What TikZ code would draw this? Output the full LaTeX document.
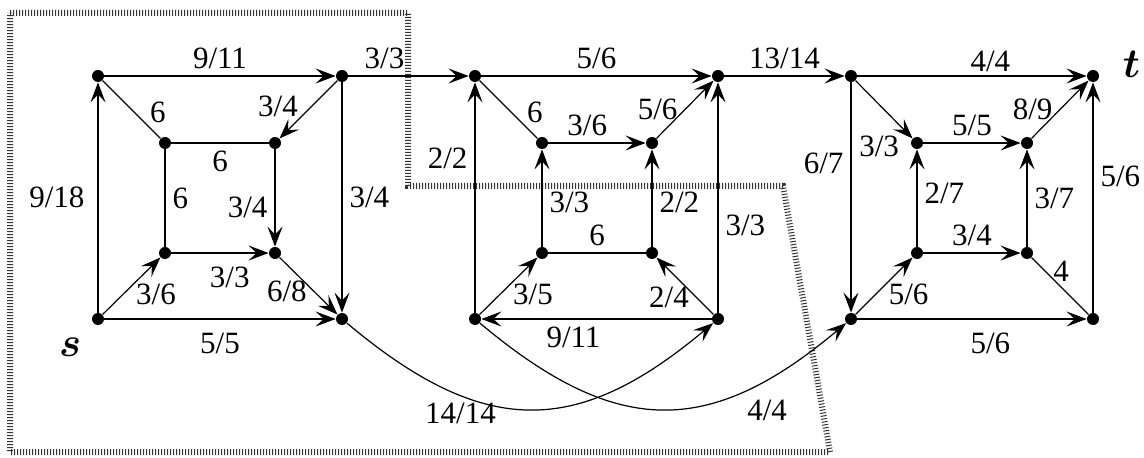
\documentclass[tikz,border=0pt]{standalone}
\usepackage{fontspec}
\setmainfont{Liberation Serif}
\usepackage{amsmath,amssymb}
\usetikzlibrary{arrows.meta, positioning}

\begin{document}
\begin{tikzpicture}[x=0.5pt, y=-0.5pt,
    vtx/.style={circle, fill=black, inner sep=0pt, minimum size=6pt},
    flow/.style={-{Stealth[length=10pt, width=7.5pt, inset=4pt]}, line width=0.6pt},
    ln/.style={line width=0.6pt},
    lab/.style={font=\fontsize{15.5}{18}\selectfont, inner sep=3.5pt},
    term/.style={font=\fontsize{20}{24}\selectfont, inner sep=0pt},
    cut/.style={line width=3pt, dash pattern=on 0.5pt off 1pt, black!80},
]
\useasboundingbox (0,0) rectangle (1144,458);

% The cut
\draw[cut] (10,13) -- (408,13) -- (408,186) -- (783,186) -- (830,452) -- (10,452) -- cycle;

% Left block
\node[vtx] (TL1) at (98,76) {};
\node[vtx] (TR1) at (342,76) {};
\node[vtx] (ITL1) at (165,143) {};
\node[vtx] (ITR1) at (275,143) {};
\node[vtx] (IBL1) at (165,253) {};
\node[vtx] (IBR1) at (275,253) {};
\node[vtx] (BL1) at (98,319) {};
\node[vtx] (BR1) at (342,319) {};

% Middle block
\node[vtx] (TL2) at (475,76) {};
\node[vtx] (TR2) at (718,76) {};
\node[vtx] (ITL2) at (542,143) {};
\node[vtx] (ITR2) at (652,143) {};
\node[vtx] (IBL2) at (542,253) {};
\node[vtx] (IBR2) at (652,253) {};
\node[vtx] (BL2) at (475,319) {};
\node[vtx] (BR2) at (718,319) {};

% Right block
\node[vtx] (TL3) at (851,76) {};
\node[vtx] (T) at (1093,76) {};
\node[vtx] (ITL3) at (917,143) {};
\node[vtx] (ITR3) at (1027,143) {};
\node[vtx] (IBL3) at (917,253) {};
\node[vtx] (IBR3) at (1027,253) {};
\node[vtx] (BL3) at (851,319) {};
\node[vtx] (BR3) at (1093,319) {};

% Source and sink
\node[term, below left=7pt and 6pt of BL1] (SRC) {$\boldsymbol{s}$};
\node[term, above right=-3pt and 12.5pt of T] (SNK) {$\boldsymbol{t}$};

% Left block edges
\draw[flow] (TL1) -- node[lab, above] {9/11} (TR1);
\draw[flow] (BL1) -- node[lab, left=3pt] {9/18} (TL1);
\draw[ln] (ITL1) -- node[lab, right=4pt, pos=0.45] {6} (TL1);
\draw[ln] (ITL1) -- node[lab, below] {6} (ITR1);
\draw[ln] (ITL1) -- node[lab, right] {6} (IBL1);
\draw[flow] (TR1) -- node[lab, left=3pt, pos=0.45] {3/4} (ITR1);
\draw[flow] (ITR1) -- node[lab, left, pos=0.6] {3/4} (IBR1);
\draw[flow] (TR1) -- node[lab, right, pos=0.5] {3/4} (BR1);
\draw[flow] (BL1) -- node[lab, right, pos=0.45, yshift=-3pt] {3/6} (IBL1);
\draw[flow] (IBL1) -- node[lab, below=3pt, pos=0.6] {3/3} (IBR1);
\draw[flow] (IBR1) -- node[lab, left, pos=0.6] {6/8} (BR1);
\draw[flow] (BL1) -- node[lab, below=3pt] {5/5} (BR1);

% Between the blocks
\draw[flow] (TR1) -- node[lab, above, pos=0.3] {3/3} (TL2);
\draw[flow] (TR2) -- node[lab, above] {13/14} (TL3);
\draw[flow] (BR1) to[out=-40, in=-140, looseness=1.25] node[lab, below, pos=0.3] {14/14} (BR2);
\draw[flow] (BL2) to[out=-40, in=-140, looseness=1.25] node[lab, below right, pos=0.72] {4/4} (BL3);

% Middle block edges
\draw[flow] (TL2) -- node[lab, above] {5/6} (TR2);
\draw[flow] (BL2) -- node[lab, left, pos=0.67] {2/2} (TL2);
\draw[ln] (ITL2) -- node[lab, right=4pt, pos=0.45] {6} (TL2);
\draw[flow] (ITL2) -- node[lab, above, pos=0.4] {3/6} (ITR2);
\draw[flow] (ITR2) -- node[lab, left] {5/6} (TR2);
\draw[flow] (IBL2) -- node[lab, right, pos=0.45] {3/3} (ITL2);
\draw[flow] (IBR2) -- node[lab, right, pos=0.45] {2/2} (ITR2);
\draw[flow] (BR2) -- node[lab, right, pos=0.38] {3/3} (TR2);
\draw[ln] (IBL2) -- node[lab, above] {6} (IBR2);
\draw[flow] (BL2) -- node[lab, right, pos=0.45, yshift=-3pt] {3/5} (IBL2);
\draw[flow] (BR2) -- node[lab, left, pos=0.3] {2/4} (IBR2);
\draw[flow] (BR2) -- node[lab, below, pos=0.6] {9/11} (BL2);

% Right block edges
\draw[flow] (TL3) -- node[lab, above=-1.5pt, pos=0.58] {4/4} (T);
\draw[flow] (TL3) -- node[lab, left, pos=0.35] {6/7} (BL3);
\draw[flow] (TL3) -- node[lab, left=3pt, pos=1, yshift=-4pt] {3/3} (ITL3);
\draw[flow] (ITL3) -- node[lab, above] {5/5} (ITR3);
\draw[flow] (ITR3) -- node[lab, left] {8/9} (T);
\draw[flow] (IBL3) -- node[lab, right, pos=0.55] {2/7} (ITL3);
\draw[flow] (IBR3) -- node[lab, right, pos=0.5] {3/7} (ITR3);
\draw[flow] (BR3) -- node[lab, right, pos=0.59] {5/6} (T);
\draw[flow] (IBL3) -- node[lab, above] {3/4} (IBR3);
\draw[flow] (BL3) -- node[lab, right, pos=0.45, yshift=-3pt] {5/6} (IBL3);
\draw[ln] (IBR3) -- node[lab, right, pos=0.25] {4} (BR3);
\draw[flow] (BL3) -- node[lab, below=3pt, pos=0.58] {5/6} (BR3);
\end{tikzpicture}
\end{document}
